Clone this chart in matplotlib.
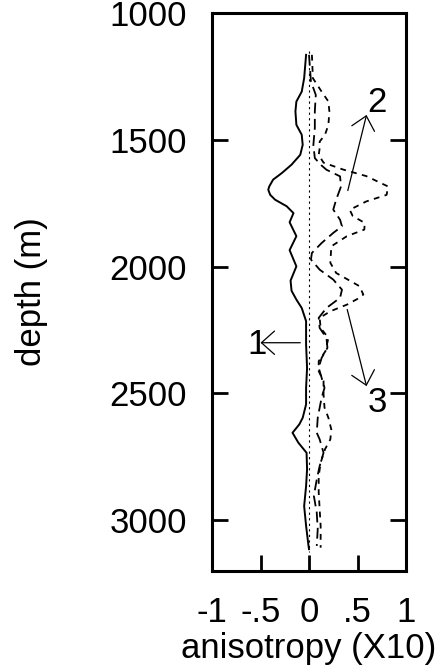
import numpy as np
import matplotlib
matplotlib.use("Agg")
import matplotlib.pyplot as plt

plt.rcParams['font.family'] = ['Liberation Sans', 'DejaVu Sans']

# curve 1 (solid)
depth1 = [1165, 1257, 1310, 1349, 1388, 1441, 1480, 1520, 1559, 1598, 1631, 1657,
          1684, 1697, 1717, 1736, 1762, 1789, 1825, 1880, 1935, 1999, 2055, 2095,
          2130, 2163, 2215, 2307, 2399, 2478, 2543, 2596, 2622, 2655, 2694, 2734,
          2800, 2865, 2944, 3022, 3101, 3114]
aniso1 = [-0.03, -0.05, -0.075, -0.13, -0.14, -0.13, -0.075, -0.065, -0.09, -0.18, -0.28, -0.37,
          -0.41, -0.42, -0.40, -0.35, -0.23, -0.16, -0.20, -0.13, -0.20, -0.13, -0.19, -0.18,
          -0.13, -0.075, -0.03, -0.03, -0.02, -0.03, -0.03, -0.065, -0.10, -0.17, -0.11, -0.025,
          -0.02, -0.03, -0.05, -0.03, -0.005, 0.0]

# curve 2 (long dashes)
depth2 = [1165, 1270, 1323, 1388, 1454, 1520, 1572, 1598, 1618, 1644, 1684, 1736,
          1775, 1815, 1841, 1867, 1907, 1946, 1972, 2012, 2051, 2091, 2123, 2163,
          2202, 2242, 2281, 2320, 2360, 2399, 2438, 2478, 2517, 2556, 2596, 2655,
          2681, 2734, 2786, 2839, 2904, 2970, 3035, 3101]
aniso2 = [0.0, 0.02, 0.07, 0.06, 0.06, 0.045, 0.06, 0.12, 0.18, 0.32, 0.33, 0.28,
          0.25, 0.32, 0.34, 0.25, 0.13, 0.03, 0.02, 0.11, 0.25, 0.34, 0.32, 0.18,
          0.10, 0.11, 0.18, 0.19, 0.13, 0.10, 0.13, 0.16, 0.13, 0.11, 0.09, 0.08,
          0.11, 0.15, 0.11, 0.08, 0.05, 0.08, 0.09, 0.08]

# curve 3 (short dashes)
depth3 = [1165, 1257, 1310, 1349, 1388, 1441, 1480, 1507, 1533, 1560, 1590, 1617,
          1643, 1684, 1717, 1743, 1776, 1800, 1828, 1854, 1880, 1920, 1985, 2025,
          2077, 2110, 2123, 2150, 2176, 2202, 2242, 2281, 2333, 2373, 2412, 2451,
          2504, 2556, 2596, 2642, 2681, 2720, 2773, 2826, 2891, 2957, 3022, 3088, 3108]
aniso3 = [0.03, 0.04, 0.13, 0.20, 0.21, 0.20, 0.165, 0.11, 0.11, 0.10, 0.15, 0.35,
          0.59, 0.815, 0.80, 0.59, 0.42, 0.45, 0.575, 0.57, 0.39, 0.23, 0.22, 0.28,
          0.52, 0.56, 0.52, 0.39, 0.22, 0.11, 0.12, 0.20, 0.17, 0.10, 0.10, 0.15,
          0.15, 0.16, 0.20, 0.23, 0.22, 0.165, 0.12, 0.10, 0.10, 0.11, 0.12, 0.12, 0.12]

# dotted zero line extent
zero_depth = [1150, 3125]

xticks = [-1, -0.5, 0, 0.5, 1]
xticklabels = ['-1', '-.5', '0', '.5', '1']
yticks = [1000, 1500, 2000, 2500, 3000]

fig = plt.figure(figsize=(4.45, 6.72), dpi=100)
ax = fig.add_axes([212 / 445, 1 - 571 / 672, 194 / 445, 558 / 672])

ax.plot([0, 0], zero_depth, color='black', lw=0.8, ls=(0, (2, 3)))
ax.plot(aniso1, depth1, color='black', lw=1.4)
ax.plot(aniso2, depth2, color='black', lw=1.3, dashes=(6, 3))
ax.plot(aniso3, depth3, color='black', lw=1.3, dashes=(3.2, 3))

arrow = dict(arrowstyle='->,head_length=0.47,head_width=0.42', color='black',
             lw=0.9, mutation_scale=20, shrinkA=0, shrinkB=0)
ax.annotate('', xy=(-0.50, 2300), xytext=(-0.09, 2300), arrowprops=arrow)
ax.annotate('', xy=(0.593, 1402), xytext=(0.40, 1700), arrowprops=arrow)
ax.annotate('', xy=(0.593, 2471), xytext=(0.394, 2169), arrowprops=arrow)
ax.text(-0.54, 2346, '1', fontsize=25, ha='center', va='baseline')
ax.text(0.704, 1392, '2', fontsize=25, ha='center', va='baseline')
ax.text(0.704, 2573, '3', fontsize=25, ha='center', va='baseline')

ax.set_xlim(-1, 1)
ax.set_ylim(3200, 1000)
ax.set_xticks(xticks)
ax.set_xticklabels(xticklabels)
ax.set_yticks(yticks)
ax.tick_params(axis='both', direction='in', length=11.5, width=2, labelsize=25, pad=18)
ax.tick_params(axis='y', right=True)
for s in ax.spines.values():
    s.set_linewidth(2.2)

ax.set_xlabel('anisotropy (X10)', fontsize=25)
ax.set_ylabel('depth (m)', fontsize=25)
ax.xaxis.set_label_coords(0.5, -0.109)
ax.yaxis.set_label_coords(-0.845, 0.5)

fig.savefig('out.png', dpi=100)
